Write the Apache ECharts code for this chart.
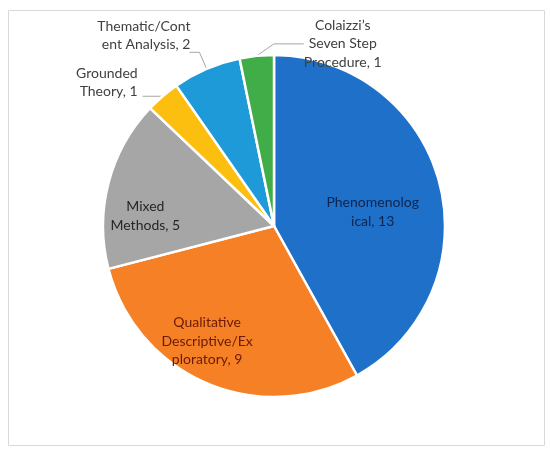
<!DOCTYPE html>
<html>
<head>
<meta charset="utf-8">
<script src="https://cdn.jsdelivr.net/npm/echarts@6/dist/echarts.min.js"></script>
<style>
html,body{margin:0;padding:0;background:#fff;}
#main{width:550px;height:453px;}
</style>
</head>
<body>
<div id="main"></div>
<script>
var categories = ['Phenomenological', 'Qualitative Descriptive/Exploratory', 'Mixed Methods', 'Grounded Theory', 'Thematic/Content Analysis', 'Colaizzi\u2019s Seven Step Procedure'];
var values = [13, 9, 5, 1, 2, 1];
var labelTexts = ['Phenomenolog\nical, 13', 'Qualitative\nDescriptive/Ex\nploratory, 9', 'Mixed\nMethods, 5', 'Grounded\nTheory, 1', 'Thematic/Cont\nent Analysis, 2', 'Colaizzi\u2019s\nSeven Step\nProcedure, 1'];
var colors = ['#1f70c8', '#f58025', '#a6a6a6', '#fdbf0f', '#1e9ad9', '#40ad48'];

var insideStyle = [
  {color: '#0d2550', offset: [13, 8]},
  {color: '#6a1a05', offset: [-32, 34]},
  {color: '#262626', offset: [-43, 12]}
];
var outsideCfg = [null, null, null,
  {length: 0, length2: 20, dx: 0, dy: -14},
  {length: 18, length2: 10, dx: 6, dy: -17},
  {length: 8, length2: 30, dx: 0, dy: 0}
];

var data = categories.map(function (name, i) {
  var item = {name: name, value: values[i], itemStyle: {color: colors[i]}};
  if (i < 3) {
    item.label = {position: 'inside', color: insideStyle[i].color, offset: insideStyle[i].offset};
    item.labelLine = {show: false};
  } else {
    item.label = {position: 'outside', color: '#404040'};
    item.labelLine = {show: true, length: outsideCfg[i].length, length2: outsideCfg[i].length2,
      lineStyle: {color: '#a6a6a6', width: 1}};
  }
  return item;
});

var chart = echarts.init(document.getElementById('main'));
chart.setOption({
  animation: false,
  backgroundColor: '#fff',
  graphic: [{
    type: 'rect', left: 6, top: 8,
    shape: {width: 536, height: 435},
    style: {fill: 'none', stroke: '#d9d9d9', lineWidth: 1}, silent: true, z: -1
  }],
  series: [{
    type: 'pie',
    center: [274, 226],
    radius: 171,
    startAngle: 90,
    clockwise: true,
    avoidLabelOverlap: false,
    itemStyle: {borderColor: '#fff', borderWidth: 2.5},
    label: {
      fontFamily: 'Lato',
      fontSize: 14,
      lineHeight: 18.5,
      align: 'center',
      formatter: function (p) { return labelTexts[p.dataIndex]; }
    },
    labelLayout: function (p) {
      var c = outsideCfg[p.dataIndex];
      if (!c) return {};
      if (p.dataIndex === 5) {
        return {x: p.labelLinePoints[0][0] + 86, y: p.labelLinePoints[0][1] - 12, align: 'center', verticalAlign: 'middle'};
      }
      return {dx: c.dx, dy: c.dy};
    },
    data: data
  }]
});
</script>
</body>
</html>
